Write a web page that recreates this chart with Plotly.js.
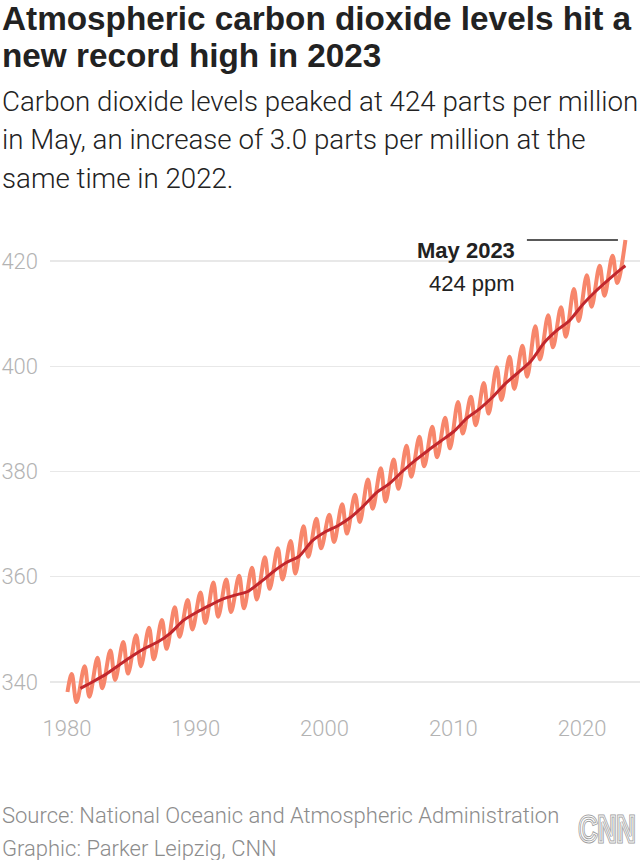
<!DOCTYPE html>
<html><head><meta charset="utf-8">
<script src="https://cdn.plot.ly/plotly-3.0.1.min.js"></script>
<style>html,body{margin:0;padding:0;background:#fff}#chart{width:640px;height:860px}</style>
</head><body><div id="chart"></div>
<script>
// ---- data (ppm) ----
const years = [1980,1981,1982,1983,1984,1985,1986,1987,1988,1989,1990,1991,1992,1993,1994,1995,1996,1997,1998,1999,2000,2001,2002,2003,2004,2005,2006,2007,2008,2009,2010,2011,2012,2013,2014,2015,2016,2017,2018,2019,2020,2021,2022,2023];
// seasonal maximum (May) each year
const mayPeak = [341.5,343.0,344.6,346.0,347.6,348.9,350.3,351.8,354.2,355.6,357.0,358.9,359.5,360.2,361.7,363.7,365.4,366.8,369.6,371.0,371.8,373.8,375.6,378.5,380.6,382.3,384.9,386.6,388.5,390.2,393.2,394.2,396.8,399.8,401.8,403.9,407.6,409.7,411.2,414.7,417.3,419.1,421.0,424.0];
// seasonal minimum (Sep/Oct) each year, 1980-2022
const fallLow = [336.2,337.2,338.8,340.4,341.6,343.0,344.3,346.3,348.6,350.0,351.2,352.4,353.3,354.0,355.7,357.7,359.5,360.6,363.8,365.4,366.6,368.2,370.4,372.9,374.3,376.7,379.0,381.0,382.7,384.4,387.2,388.8,391.0,393.6,395.7,398.0,401.3,403.6,405.6,408.6,411.3,413.4,415.8];
const firstMonth = '1980-01-15';
const firstMonthPPM = 338.1;
// 12-month average (trend), January of each year 1981-2023, then May 2023
const trendPPM = [338.8,340.1,341.5,343.2,344.9,346.4,347.6,349.3,351.7,353.2,354.5,355.7,356.5,357.2,359.0,361.0,362.7,363.9,366.8,368.5,369.7,371.3,373.5,376.0,377.7,380.0,382.1,384.0,385.8,387.6,390.1,391.9,394.1,396.7,398.8,401.0,404.4,406.8,408.7,411.7,414.2,416.4,418.5];
const trendLast = {date: '2023-05-15', ppm: 419.1};
const xTickYears = ['1980','1990','2000','2010','2020'];
const yTicks = [340,360,380,400,420];
const peakLabel = 'May 2023';
const peakValueLabel = '424 ppm';

// ---- build series ----
const seasonX = [firstMonth], seasonY = [firstMonthPPM];
years.forEach((y, i) => {
  seasonX.push(y + '-05-15'); seasonY.push(mayPeak[i]);
  if (i < fallLow.length) { seasonX.push(y + '-09-28'); seasonY.push(fallLow[i]); }
});
const trendX = trendPPM.map((v, i) => (years[i] + 1) + '-01-15');
const trendY = trendPPM.slice();
trendX.push(trendLast.date); trendY.push(trendLast.ppm);

// ---- layout helpers (pixel -> paper) ----
const W = 640, H = 860, L = 50, R = 0, T = 225, B = 148;
const pw = W - L - R, ph = H - T - B;
const px = x => (x - L) / pw;
const py = y => (H - B - y) / ph;

const lightFont = 'Roboto, "Liberation Sans", sans-serif';
const titleFont = {family: '"Liberation Sans", Arial, sans-serif', size: 33.3, color: '#222222', weight: 'bold'};
const subFont = {family: lightFont, size: 27.7, color: '#222222', weight: 300};
const tickFont = {family: lightFont, size: 22, color: '#b3b3b3', weight: 300};
const srcFont = {family: lightFont, size: 22, color: '#8c8c8c', weight: 300};

const ann = (text, x, y, font, xanchor) => ({text, x: px(x), y: py(y), xref: 'paper', yref: 'paper', xanchor: xanchor || 'left', yanchor: 'middle', showarrow: false, font, align: 'left'});

const logoSvg = "<svg xmlns='http://www.w3.org/2000/svg' width='60' height='38' viewBox='0 0 60 38'>" +
  "<text x='30' y='33' text-anchor='middle' font-family='Liberation Sans' font-weight='bold' font-size='36' fill='none' stroke='#a0a0a0' stroke-width='3' textLength='57' lengthAdjust='spacingAndGlyphs'>CNN</text>" +
  "<text x='30' y='33' text-anchor='middle' font-family='Liberation Sans' font-weight='bold' font-size='36' fill='none' stroke='#ffffff' stroke-width='0.9' textLength='57' lengthAdjust='spacingAndGlyphs'>CNN</text></svg>";

const data = [
  {x: seasonX, y: seasonY, type: 'scatter', mode: 'lines', line: {color: '#f7866b', width: 4, shape: 'spline', smoothing: 1}, hoverinfo: 'skip'},
  {x: trendX, y: trendY, type: 'scatter', mode: 'lines', line: {color: '#c1272d', width: 3, shape: 'spline', smoothing: 0.6}, hoverinfo: 'skip'}
];

const layout = {
  width: W, height: H,
  margin: {l: L, r: R, t: T, b: B, pad: 0},
  paper_bgcolor: '#ffffff', plot_bgcolor: '#ffffff',
  showlegend: false,
  xaxis: {
    type: 'date', range: ['1978-09-06', '2024-07-02'],
    tickvals: xTickYears.map(y => y + '-01-01'), ticktext: xTickYears,
    showgrid: false, zeroline: false, showline: false, ticks: '',
    tickfont: tickFont, ticklabelstandoff: 1, fixedrange: true
  },
  yaxis: {
    range: [334.3, 426.84], tickvals: yTicks, ticktext: yTicks.map(String),
    showgrid: true, gridcolor: '#e8e8e8', gridwidth: 1.2, zeroline: false, showline: false, ticks: '',
    tickfont: tickFont, ticklabelstandoff: 11, fixedrange: true
  },
  shapes: [
    {type: 'line', xref: 'x', yref: 'y', x0: '2015-09-20', x1: '2022-10-15', y0: 424.0, y1: 424.0, line: {color: '#222222', width: 1.5}}
  ],
  annotations: [
    ann('Atmospheric carbon dioxide levels hit a', 0, 18, titleFont),
    ann('new record high in 2023', 0, 55, titleFont),
    ann('Carbon dioxide levels peaked at 424 parts per million', 0, 102, subFont),
    ann('in May, an increase of 3.0 parts per million at the', 0, 140, subFont),
    ann('same time in 2022.', 0, 178, subFont),
    {text: '<b>' + peakLabel + '</b>', x: '2014-12-15', y: 421.96, xref: 'x', yref: 'y', xanchor: 'right', yanchor: 'middle', showarrow: false, font: {family: '"Liberation Sans", Arial, sans-serif', size: 22, color: '#222222'}},
    {text: peakValueLabel, x: '2014-12-15', y: 415.8, xref: 'x', yref: 'y', xanchor: 'right', yanchor: 'middle', showarrow: false, font: {family: '"Liberation Sans", Arial, sans-serif', size: 22, color: '#222222'}},
    ann('Source: National Oceanic and Atmospheric Administration', 0, 815, srcFont),
    ann('Graphic: Parker Leipzig, CNN', 0, 848, srcFont)
  ],
  images: [
    {source: 'data:image/svg+xml;charset=utf-8,' + encodeURIComponent(logoSvg), xref: 'paper', yref: 'paper', x: px(577), y: py(809), sizex: 60 / pw, sizey: 38 / ph, xanchor: 'left', yanchor: 'top', sizing: 'stretch', layer: 'above'}
  ]
};

Plotly.newPlot('chart', data, layout, {displayModeBar: false, staticPlot: true});
</script>
</body></html>
